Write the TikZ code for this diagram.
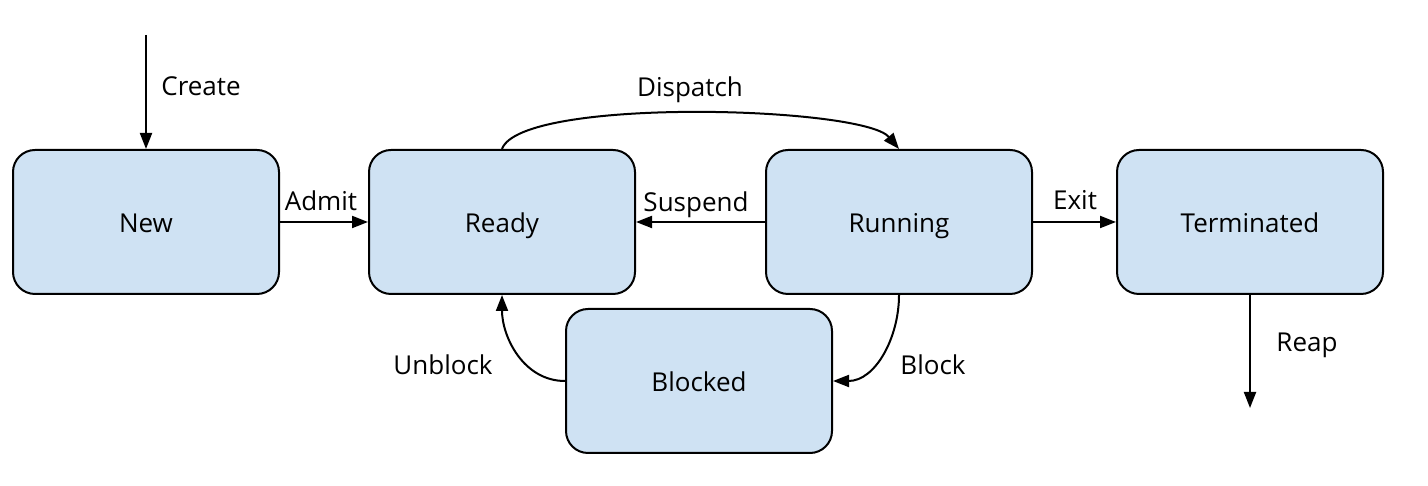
\documentclass[tikz,border=0pt]{standalone}
\usepackage{fontspec}
\setmainfont{Open Sans}
\usetikzlibrary{arrows.meta}
\definecolor{statefill}{HTML}{CFE2F3}
\tikzset{
	state/.style={draw=black, line width=1pt, fill=statefill, rounded corners=11pt, minimum width=133pt, minimum height=72pt, inner sep=0pt, text height=13pt, text depth=2pt, font=\fontsize{13}{15}\selectfont},
	edge/.style={line width=1pt, -{Triangle[length=8pt, width=6pt]}},
	edgelabel/.style={inner sep=0pt, text height=10pt, text depth=3pt, font=\fontsize{13}{15}\selectfont}
}
\begin{document}
\begin{tikzpicture}[x=0.5pt, y=0.5pt]
	\useasboundingbox (0, 0) rectangle (1428, 486);
	\node[state] (new) at (146, 264) {New};
	\node[state] (ready) at (502, 264) {Ready};
	\node[state] (running) at (899, 264) {Running};
	\node[state] (terminated) at (1250, 264) {Terminated};
	\node[state] (blocked) at (699, 105) {Blocked};
	\coordinate (createstart) at (146, 451);
	\coordinate (reapend) at (1250, 78);
	\node[edgelabel] (create) at (201, 397) {Create};
	\node[edgelabel] (admit) at (321, 282) {Admit};
	\node[edgelabel] (dispatch) at (690, 396) {Dispatch};
	\node[edgelabel] (suspend) at (696, 281) {Suspend};
	\node[edgelabel] (exit) at (1075, 283) {Exit};
	\node[edgelabel] (reap) at (1307, 141) {Reap};
	\node[edgelabel] (block) at (933, 118) {Block};
	\node[edgelabel] (unblock) at (443, 118) {Unblock};
	\draw[edge] (createstart) to (new.north);
	\draw[edge] (new.east) to (ready.west);
	\draw[edge] (ready.north) to[out=70, in=130, looseness=0.36] (running.north);
	\draw[edge] (running.west) to (ready.east);
	\draw[edge] (running.east) to (terminated.west);
	\draw[edge] (terminated.south) to (reapend);
	\draw[edge] (running.south) to[out=-90, in=0] (blocked.east);
	\draw[edge] (blocked.west) to[out=180, in=-90] (ready.south);
\end{tikzpicture}
\end{document}
